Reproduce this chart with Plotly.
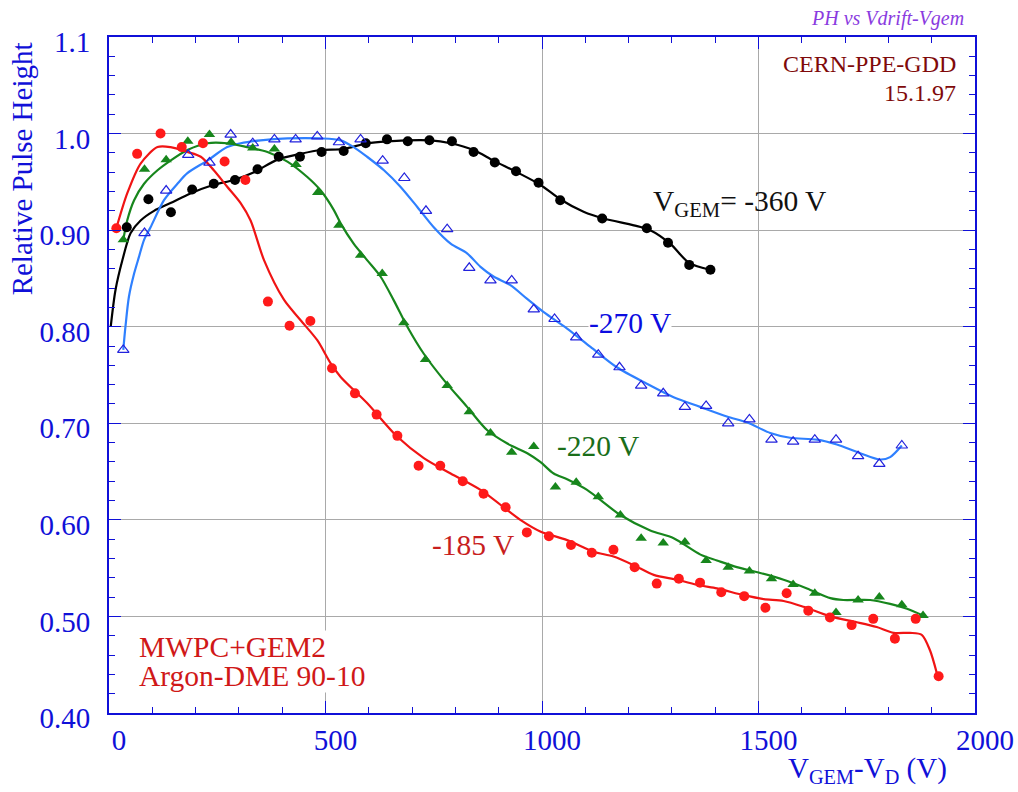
import plotly.graph_objects as go

# ---- measured points: relative pulse height vs V_GEM - V_D ----
v360_x = [41, 91, 143, 192, 242, 291, 343, 392, 441, 491, 542, 593, 642, 690, 740,
          792, 842, 891, 940, 992, 1042, 1139, 1242, 1291, 1340, 1389]
v360_y = [0.903, 0.932, 0.9185, 0.942, 0.948, 0.952, 0.963, 0.976, 0.976, 0.981,
          0.982, 0.990, 0.994, 0.992, 0.993, 0.992, 0.981, 0.970, 0.961, 0.949,
          0.931, 0.912, 0.902, 0.887, 0.864, 0.859]

v270_x = [33, 82, 132, 183, 232, 281, 332, 382, 431, 481, 531, 581, 632, 682, 732,
          781, 832, 881, 930, 981, 1029, 1079, 1130, 1179, 1229, 1280, 1330, 1379,
          1430, 1479, 1530, 1580, 1630, 1679, 1730, 1779, 1831]
v270_y = [0.776, 0.897, 0.941, 0.978, 0.970, 0.999, 0.990, 0.994, 0.994, 0.997,
          0.991, 0.994, 0.972, 0.954, 0.920, 0.901, 0.861, 0.848, 0.848, 0.818,
          0.808, 0.789, 0.771, 0.758, 0.739, 0.731, 0.717, 0.718, 0.700, 0.704,
          0.683, 0.681, 0.683, 0.683, 0.666, 0.658, 0.677]

v220_x = [33, 82, 132, 182, 232, 282, 332, 382, 432, 482, 531, 581, 631, 681, 731,
          781, 832, 881, 930, 981, 1031, 1079, 1130, 1181, 1229, 1280, 1330, 1379,
          1430, 1479, 1530, 1580, 1630, 1679, 1730, 1779, 1831, 1880]
v220_y = [0.890, 0.963, 0.973, 0.992, 0.999, 0.991, 0.985, 0.984, 0.968, 0.939,
          0.905, 0.874, 0.855, 0.804, 0.766, 0.739, 0.712, 0.690, 0.670, 0.676,
          0.634, 0.639, 0.624, 0.605, 0.581, 0.576, 0.577, 0.558, 0.551, 0.547,
          0.539, 0.533, 0.524, 0.504, 0.517, 0.520, 0.512, 0.501]

v185_x = [17, 65, 119, 168, 217, 267, 315, 367, 417, 465, 515, 568, 618, 666, 715,
          765, 817, 865, 916, 965, 1016, 1067, 1115, 1165, 1214, 1265, 1316, 1365,
          1414, 1467, 1516, 1565, 1615, 1665, 1715, 1765, 1815, 1863, 1916]
v185_y = [0.902, 0.979, 1.000, 0.986, 0.990, 0.971, 0.952, 0.826, 0.801, 0.806,
          0.757, 0.731, 0.709, 0.687, 0.656, 0.656, 0.640, 0.627, 0.613, 0.587,
          0.583, 0.574, 0.566, 0.569, 0.551, 0.534, 0.539, 0.535, 0.525, 0.521,
          0.509, 0.524, 0.506, 0.499, 0.491, 0.4975, 0.477, 0.4975, 0.438]

# ---- smoothed fit curves (knots) ----
fit360_x = [4, 15, 31, 50, 73, 104, 142, 188, 242, 288, 335, 389, 442, 488, 542, 596,
            642, 742, 789, 842, 888, 942, 996, 1042, 1096, 1142, 1212, 1250, 1296,
            1340, 1389]
fit360_y = [0.800, 0.838, 0.869, 0.897, 0.910, 0.920, 0.928, 0.938, 0.947, 0.952,
            0.960, 0.973, 0.979, 0.983, 0.984, 0.990, 0.992, 0.993, 0.990, 0.983,
            0.972, 0.960, 0.947, 0.932, 0.919, 0.912, 0.905, 0.900, 0.886, 0.866,
            0.859]

fit270_x = [33, 38, 46, 58, 69, 81, 96, 127, 158, 181, 227, 273, 304, 350, 412, 489,
            535, 565, 596, 635, 673, 712, 750, 789, 827, 858, 888, 927, 965, 1004,
            1058, 1112, 1173, 1242, 1304, 1365, 1427, 1473, 1527, 1573, 1635, 1681,
            1735, 1781, 1804, 1831]
fit270_y = [0.776, 0.800, 0.831, 0.855, 0.872, 0.890, 0.903, 0.931, 0.948, 0.959,
            0.972, 0.986, 0.990, 0.993, 0.995, 0.995, 0.993, 0.986, 0.976, 0.962,
            0.945, 0.924, 0.903, 0.886, 0.876, 0.862, 0.852, 0.843, 0.829, 0.815,
            0.798, 0.779, 0.758, 0.741, 0.727, 0.717, 0.707, 0.701, 0.690, 0.685,
            0.683, 0.678, 0.669, 0.6625, 0.665, 0.677]

fit220_x = [33, 42, 58, 81, 112, 142, 181, 227, 273, 319, 366, 412, 458, 489, 519,
            535, 565, 596, 627, 658, 689, 727, 773, 827, 873, 920, 966, 996, 1027,
            1058, 1104, 1181, 1250, 1304, 1366, 1404, 1450, 1504, 1558, 1612, 1666,
            1696, 1758, 1804, 1843, 1880]
fit220_y = [0.890, 0.910, 0.931, 0.948, 0.962, 0.972, 0.983, 0.990, 0.990, 0.986,
            0.981, 0.971, 0.955, 0.941, 0.921, 0.907, 0.886, 0.869, 0.852, 0.827,
            0.800, 0.772, 0.745, 0.717, 0.693, 0.679, 0.669, 0.660, 0.648, 0.642,
            0.631, 0.605, 0.589, 0.581, 0.564, 0.558, 0.551, 0.545, 0.538, 0.529,
            0.519, 0.517, 0.517, 0.513, 0.508, 0.501]

fit185_x = [17, 42, 73, 112, 142, 181, 212, 242, 273, 304, 327, 358, 404, 442, 481,
            512, 535, 596, 666, 727, 789, 858, 950, 996, 1058, 1119, 1165, 1212,
            1258, 1312, 1365, 1404, 1466, 1512, 1558, 1604, 1666, 1727, 1773, 1812,
            1850, 1877, 1896, 1912]
fit185_y = [0.902, 0.938, 0.969, 0.986, 0.986, 0.981, 0.976, 0.962, 0.945, 0.928,
            0.910, 0.869, 0.828, 0.807, 0.786, 0.762, 0.748, 0.721, 0.686, 0.664,
            0.648, 0.631, 0.600, 0.588, 0.579, 0.567, 0.562, 0.553, 0.543, 0.538,
            0.532, 0.529, 0.522, 0.518, 0.516, 0.510, 0.500, 0.494, 0.489, 0.483,
            0.483, 0.481, 0.465, 0.441]

x_ticks = [0, 500, 1000, 1500, 2000]
x_tick_text = ["0", "500", "1000", "1500", "2000"]
y_ticks = [0.4, 0.5, 0.6, 0.7, 0.8, 0.9, 1.0, 1.1]
y_tick_text = ["0.40", "0.50", "0.60", "0.70", "0.80", "0.90", "1.0", "1.1"]

SERIF = "Liberation Serif"
AXIS_BLUE = "#1010d8"

fig = go.Figure()

# fit curves first, markers on top
curves = [
    (fit360_x, fit360_y, "#000000"),
    (fit270_x, fit270_y, "#2f80ff"),
    (fit220_x, fit220_y, "#17861c"),
    (fit185_x, fit185_y, "#f01414"),
]
for cx, cy, col in curves:
    fig.add_trace(go.Scatter(x=cx, y=cy, mode="lines",
                             line=dict(color=col, width=2.2, shape="spline", smoothing=0.8),
                             hoverinfo="skip", showlegend=False))

fig.add_trace(go.Scatter(x=v360_x, y=v360_y, mode="markers", showlegend=False,
                         marker=dict(symbol="circle", size=10, color="#000000", line=dict(width=0))))
fig.add_trace(go.Scatter(x=v270_x, y=v270_y, mode="markers", showlegend=False,
                         marker=dict(symbol="triangle-up-open", size=10, color="#2222dd",
                                     line=dict(width=1.2, color="#2222dd"))))
fig.add_trace(go.Scatter(x=v220_x, y=v220_y, mode="markers", showlegend=False,
                         marker=dict(symbol="triangle-up", size=10, color="#17861c", line=dict(width=0))))
fig.add_trace(go.Scatter(x=v185_x, y=v185_y, mode="markers", showlegend=False,
                         marker=dict(symbol="circle", size=10, color="#ff1a1a", line=dict(width=0))))

axis_common = dict(
    ticks="inside", ticklen=12, tickwidth=1, tickcolor=AXIS_BLUE,
    showline=True, linecolor=AXIS_BLUE, linewidth=2, mirror="allticks",
    showgrid=True, gridcolor="#a9a9a9", gridwidth=1, zeroline=False,
    automargin=False,
    tickfont=dict(family=SERIF, size=29, color=AXIS_BLUE),
)

fig.update_xaxes(range=[0, 2000], tickmode="array", tickvals=x_ticks, ticktext=x_tick_text,
                 minor=dict(tickmode="linear", tick0=0, dtick=100, ticks="inside", ticklen=6,
                            tickcolor=AXIS_BLUE, showgrid=False),
                 ticklabelshift=10, ticklabelstandoff=0, **axis_common)
fig.update_yaxes(range=[0.4, 1.1], tickmode="array", tickvals=y_ticks, ticktext=y_tick_text,
                 minor=dict(tickmode="linear", tick0=0.4, dtick=0.02, ticks="inside", ticklen=6,
                            tickcolor=AXIS_BLUE, showgrid=False),
                 ticklabelshift=5, ticklabelstandoff=11, **axis_common)

def note(text, x, y, color, size=29.5, xanchor="center", yanchor="middle", ref="data",
         bg=None, angle=0, italic=False, xshift=0):
    fig.add_annotation(
        text=f"<i>{text}</i>" if italic else text,
        x=x, y=y, xref="x" if ref == "data" else "paper", yref="y" if ref == "data" else "paper",
        showarrow=False, xanchor=xanchor, yanchor=yanchor, textangle=angle,
        font=dict(family=SERIF, size=size, color=color),
        bgcolor=bg, borderpad=0, xshift=xshift,
    )

# axis titles
note("Relative Pulse Height", -0.101, 0.805, AXIS_BLUE, size=29, ref="paper", angle=-90)
note("V<sub>GEM</sub>-V<sub>D</sub> (V)", 0.969, -0.084, AXIS_BLUE, size=29,
     xanchor="right", ref="paper")

# header notes
note("PH vs Vdrift-Vgem", 0.988, 1.028, "#8a3be0", size=20, xanchor="right", ref="paper",
     italic=True)
note("CERN-PPE-GDD", 1958, 1.0717, "#7f0a0a", size=24, xanchor="right")
note("15.1.97", 1958, 1.0417, "#7f0a0a", size=24, xanchor="right")

# curve labels
note("V<sub>GEM</sub>= -360 V", 1255, 0.928, "#111111", xanchor="left")
note("-270 V", 1204, 0.804, "#0c0ce0", bg="white")
note("-220 V", 1130, 0.677, "#1a6e1a")
note("-185 V", 841, 0.574, "#c81e1e")

# detector / gas description
note("MWPC+GEM2", 66, 0.468, "#d01818", xanchor="left", bg="white")
note("Argon-DME 90-10", 66, 0.438, "#d01818", xanchor="left", bg="white")

fig.update_layout(
    width=1018, height=792,
    margin=dict(l=109, r=43, t=37, b=79, autoexpand=False),
    paper_bgcolor="white", plot_bgcolor="white",
    showlegend=False,
    font=dict(family=SERIF),
)

fig.write_html("out.html")
